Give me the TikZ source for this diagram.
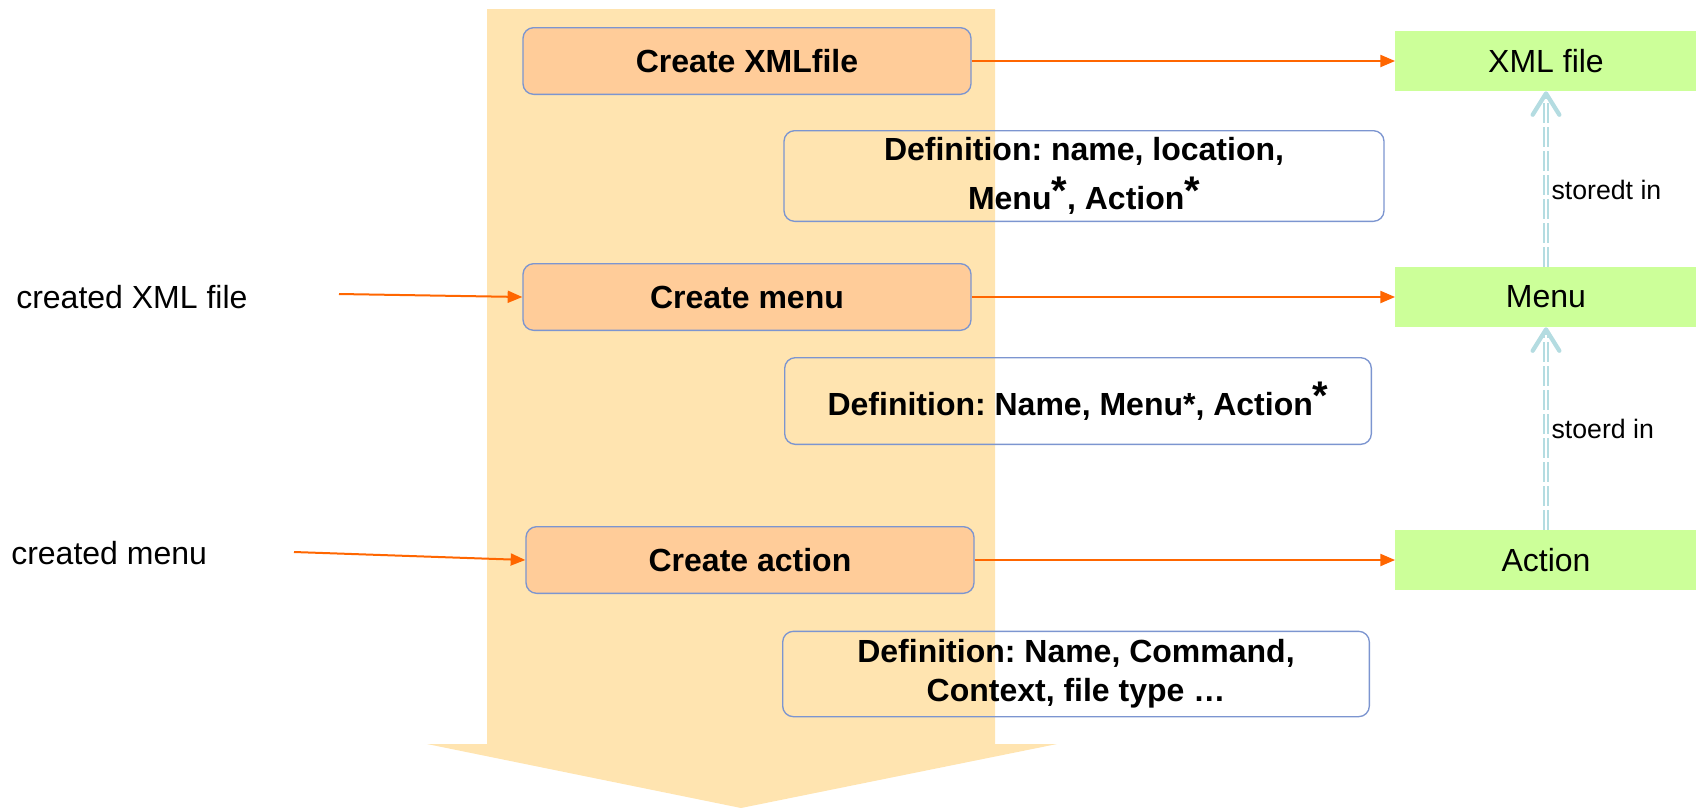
\documentclass[tikz,border=0pt]{standalone}
\usepackage{fontspec}
\setmainfont{Liberation Sans}
\usetikzlibrary{arrows.meta,positioning}

\definecolor{flowband}{RGB}{255,228,176}
\definecolor{taskfill}{RGB}{255,204,153}
\definecolor{edgeblue}{RGB}{124,149,208}
\definecolor{storegreen}{RGB}{204,255,153}
\definecolor{linkorange}{RGB}{255,102,0}
\definecolor{storeblue}{RGB}{180,220,225}

% raised, slightly bigger star
\newcommand{\supstar}{\raisebox{0.18em}{\fontsize{30}{30}\selectfont*}}

\frenchspacing
\begin{document}
\begin{tikzpicture}
	[x=0.75pt, y=-0.75pt,
	font=\fontsize{24}{29}\selectfont,
	task/.style = {draw=edgeblue, line width=1pt, fill=taskfill, rounded corners=8pt,
		minimum width=336pt, minimum height=50pt, font=\fontsize{24}{29}\selectfont\bfseries},
	defn/.style = {draw=edgeblue, line width=1pt, rounded corners=8pt, align=center,
		font=\fontsize{24}{29}\selectfont\bfseries},
	store/.style = {fill=storegreen, minimum width=226pt, minimum height=45pt},
	flow/.style = {draw=linkorange, line width=1.5pt, -{Triangle[length=11pt,width=9pt]}},
	storedin/.style = {draw=storeblue, line width=4.4pt, dash pattern=on 15pt off 3pt,
		-{Straight Barb[length=16pt,width=20pt,line width=3.2pt,round]},
		postaction={draw=white, line width=2pt, solid, -, shorten >=6pt}}]
\useasboundingbox (0,0) rectangle (1696,808);

% the wide process arrow behind the steps
\fill[flowband] (487,9) -- (995,9) -- (995,744) -- (1057,744) -- (741,808)
	-- (427,744) -- (487,744) -- cycle;

\node[task] (mkxml) at (747,61) {Create XMLfile};
\node[task] (mkmenu) at (747,297) {Create menu};
\node[task] (mkaction) at (750,560) {Create action};

\node[defn, minimum width=450pt, minimum height=68pt] (defxml) at (1084,176)
	{Definition: name, location,\\[8pt] Menu\supstar, Action\supstar};
\node[defn, minimum width=440pt, minimum height=65pt] (defmenu) at (1078,401)
	{Definition: Name, Menu*, Action\supstar};
\node[defn, minimum width=440pt, minimum height=64pt] (defaction) at (1076,674)
	{Definition: Name, Command,\\ Context, file type …};

\node[store] (xml) at (1546,61) {XML file};
\node[store] (menu) at (1546,297) {Menu};
\node[store] (action) at (1546,560) {Action};

\node[anchor=west, inner sep=0pt] (gotxml) at (16,297) {created XML file};
\node[anchor=west, inner sep=0pt] (gotmenu) at (11,553) {created menu};
\coordinate (xmlin) at (339,294);
\coordinate (menuin) at (294,552);

\draw[flow] (mkxml) -- (xml);
\draw[flow] (mkmenu) -- (menu);
\draw[flow] (mkaction) -- (action);
\draw[flow] (xmlin) -- (mkmenu.west);
\draw[flow] (menuin) -- (mkaction.west);
%\draw[flow] (gotxml) -- (mkmenu);

\draw[storedin] (menu) -- node[right, pos=0.44, inner sep=2pt, font=\fontsize{20}{24}\selectfont] {storedt in} (xml);
\draw[storedin] (action) -- node[right, midway, inner sep=2pt, font=\fontsize{20}{24}\selectfont] {stoerd in} (menu);
\end{tikzpicture}
\end{document}
